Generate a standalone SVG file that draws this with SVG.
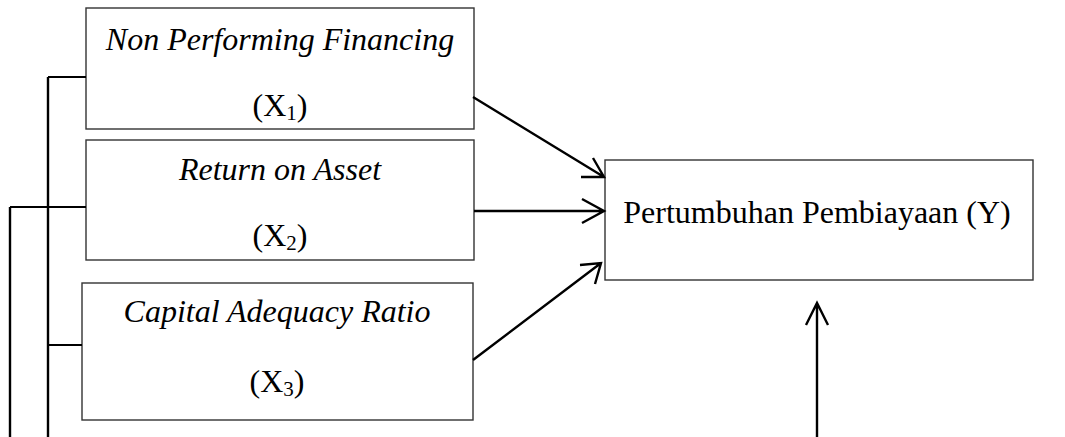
<svg xmlns="http://www.w3.org/2000/svg" width="1065" height="437" viewBox="0 0 1065 437">
<style>
.box{fill:#fff;stroke:#333;stroke-width:1.4}
.t{font-family:"Liberation Serif","Times New Roman",serif;font-size:32px;fill:#000;text-anchor:middle}
.i{font-style:italic}
.c{stroke:#000;stroke-width:2.4;fill:none}
.h{stroke:#000;stroke-width:1.8;fill:none}
</style>
<rect width="1065" height="437" fill="#fff"/>
<g id="n1">
<rect class="box" x="86" y="8" width="388" height="121"/>
<text class="t i" x="280" y="50">Non Performing Financing</text>
<text class="t" x="280" y="116">(X<tspan font-size="21" dy="4">1</tspan><tspan dy="-4">)</tspan></text>
</g>
<g id="n2">
<rect class="box" x="86" y="140" width="388" height="120"/>
<text class="t i" x="280" y="180">Return on Asset</text>
<text class="t" x="280" y="246">(X<tspan font-size="21" dy="4">2</tspan><tspan dy="-4">)</tspan></text>
</g>
<g id="n3">
<rect class="box" x="82" y="283" width="391" height="137"/>
<text class="t i" x="277" y="322">Capital Adequacy Ratio</text>
<text class="t" x="277" y="392">(X<tspan font-size="21" dy="4">3</tspan><tspan dy="-4">)</tspan></text>
</g>
<g id="y">
<rect class="box" x="605" y="160" width="428" height="120"/>
<text class="t" x="817" y="223">Pertumbuhan Pembiayaan (Y)</text>
</g>
<g id="connectors">
<path class="h" d="M48 77H86M10 207H86M48 345H82"/>
<path class="c" d="M48 77V437M10 207V437"/>
<path class="c" d="M473 97L604 177M581 177L604 177L593 158"/>
<path class="c" d="M474 211H604M582 199L604 211L582 223"/>
<path class="c" d="M473 360L601 263M580 265L601 263L595 284"/>
<path class="c" d="M817 437V303M806 325L817 303L828 325"/>
</g>
</svg>
